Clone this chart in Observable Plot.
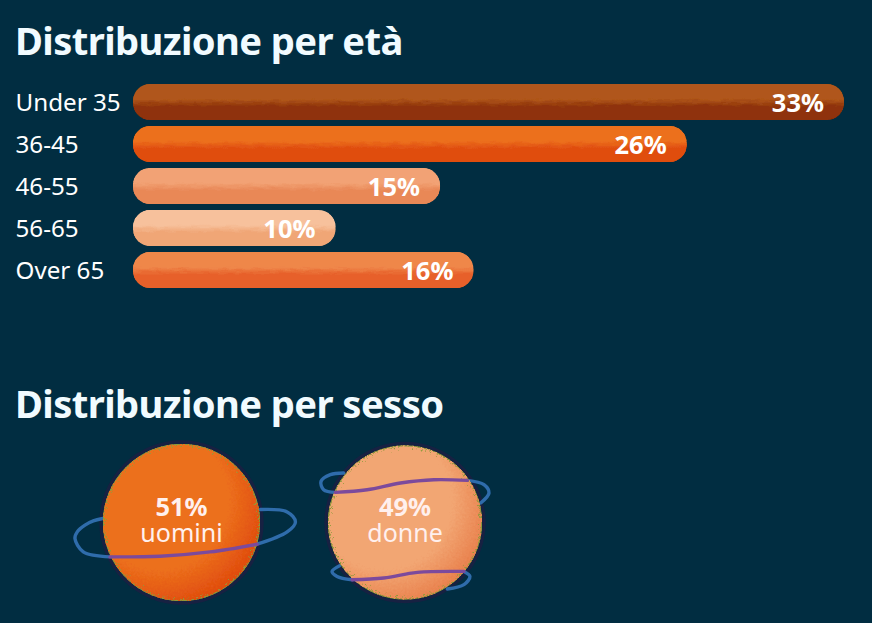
<!DOCTYPE html>
<html lang="it">
<head>
<meta charset="utf-8">
<script src="https://cdn.jsdelivr.net/npm/d3@7"></script>
<script src="https://cdn.jsdelivr.net/npm/@observablehq/plot@0.6"></script>
<style>
  html, body { margin: 0; padding: 0; background: #012d41; width: 872px; height: 623px; overflow: hidden; }
  body { position: relative; font-family: "Noto Sans", sans-serif; }
  h2 { position: absolute; left: 15px; margin: 0; color: #f1fbff; font: 700 38.2px/44px "Noto Sans", sans-serif; letter-spacing: -0.6px; white-space: nowrap; }
  #t1 { top: 18px; }
  #t2 { top: 381px; }
  #bars, #planets { position: absolute; left: 0; }
  #bars { top: 70px; }
  #planets { top: 436px; }
  #bars rect { filter: url(#rough); }
  #planets circle.body { filter: url(#grain); }
  svg { background: transparent; display: block; overflow: visible; }
</style>
</head>
<body>
<svg width="0" height="0" style="position:absolute">
  <defs id="defs"></defs>
  <filter id="rough" x="0" y="0" width="100%" height="100%">
    <feTurbulence type="fractalNoise" baseFrequency="0.09 0.35" numOctaves="2" seed="4" result="n"/>
    <feDisplacementMap in="SourceGraphic" in2="n" scale="5" xChannelSelector="R" yChannelSelector="G" result="d"/>
    <feComposite in="d" in2="SourceAlpha" operator="in" result="c"/>
    <feMerge><feMergeNode in="SourceGraphic"/><feMergeNode in="c"/></feMerge>
  </filter>
  <filter id="grain" x="0" y="0" width="100%" height="100%">
    <feTurbulence type="fractalNoise" baseFrequency="0.45" numOctaves="2" seed="7" result="n"/>
    <feDisplacementMap in="SourceGraphic" in2="n" scale="14" xChannelSelector="R" yChannelSelector="G" result="d"/>
    <feComposite in="d" in2="SourceAlpha" operator="in" result="c"/>
    <feMerge><feMergeNode in="SourceGraphic"/><feMergeNode in="c"/></feMerge>
  </filter>
</svg>
<h2 id="t1">Distribuzione per età</h2>
<div id="bars"></div>
<h2 id="t2">Distribuzione per sesso</h2>
<div id="planets"></div>
<script>
// ---- data ----
const ages = ["Under 35", "36-45", "46-55", "56-65", "Over 65"];
const ageLabels = ["33%", "26%", "15%", "10%", "16%"];
const ageLengths = [33, 25.7, 14.25, 9.4, 15.8];
const ageTop = ["#b0571a", "#ec6f1c", "#f2a274", "#f7c19c", "#ef874a"];
const ageBottom = ["#8f330a", "#e04e10", "#e98857", "#f0a676", "#e7612a"];

const sexes = ["uomini", "donne"];
const sexValues = [51, 49];
const sexLabels = ["51%", "49%"];
const sexLight = ["#ec6f1c", "#f2a673"];
const sexDark = ["#e04c0e", "#e9824e"];

// ring outlines, offsets from a planet's centre, split into back and front runs
const ringBack = [
  {planet: 0, part: "a", ox: [-78.6,-88,-96.3,-104,-106.3,-98,-71.3], oy: [-4,-1.6,2.7,9.4,16,29.4,34.4]},
  {planet: 0, part: "b", ox: [75.4,105.4,113.7,105.4,78.7], oy: [21.7,9.4,-0.6,-10.6,-13]},
  {planet: 1, part: "c", ox: [-61.2,-74.5,-83.8,-81.2,-69.5], oy: [-49.5,-47.8,-41.1,-32.8,-30.1]},
  {planet: 1, part: "d", ox: [62.2,78.8,83.8,75.5], oy: [-42.1,-37.8,-29.5,-19.5]},
  {planet: 1, part: "e", ox: [-65.2,-72.8,-67.8,-52.8], oy: [43.2,48.9,53.9,57.2]},
  {planet: 1, part: "f", ox: [58.8,64.8,58.8,42.2], oy: [48.9,53.9,62.2,66.5]}
];
const ringFront = [
  {planet: 0, part: "g", ox: [-71.3,-21.3,28.7,75.4], oy: [34.4,33.7,29.4,21.7]},
  {planet: 1, part: "h", ox: [-69.5,-37.8,-4.5,28.8,62.2], oy: [-30.1,-32.8,-39.5,-42.8,-42.1]},
  {planet: 1, part: "i", ox: [-52.8,-21.2,12.2,58.8], oy: [57.2,55.5,49.9,48.9]}
];

// ---- gradients ----
const defs = d3.select("#defs");
ages.forEach((a, i) => {
  const g = defs.append("linearGradient").attr("id", "bar" + i).attr("x1", 0).attr("x2", 0).attr("y1", 0).attr("y2", 1);
  [[0, ageTop[i]], [0.42, ageTop[i]], [0.62, ageBottom[i]], [1, ageBottom[i]]].forEach(([o, c]) =>
    g.append("stop").attr("offset", o).attr("stop-color", c));
});
sexes.forEach((s, i) => {
  const g = defs.append("radialGradient").attr("id", "planet" + i).attr("cx", 0.36).attr("cy", 0.36).attr("r", 0.72);
  [[0, sexLight[i]], [0.62, sexLight[i]], [0.95, sexDark[i]], [1, sexDark[i]]].forEach(([o, c]) =>
    g.append("stop").attr("offset", o).attr("stop-color", c));
});

// ---- age bars ----
const rows = ages.map((age, i) => ({age, length: ageLengths[i], label: ageLabels[i]}));
const barPlot = Plot.plot({
  width: 872, height: 232,
  marginLeft: 133, marginRight: 28, marginTop: 8, marginBottom: 8,
  style: {background: "transparent", fontFamily: "'Noto Sans', sans-serif", overflow: "visible"},
  x: {domain: [0, 33], axis: null},
  y: {domain: ages, padding: 6 / 42, label: null},
  color: {domain: ages, range: ages.map((a, i) => `url(#bar${i})`)},
  marks: [
    Plot.axisY({tickSize: 0, tickPadding: 0, textAnchor: "start", dx: -118, dy: 1, fontSize: 24.2, fill: "#ffffff", label: null}),
    Plot.barX(rows, {x: "length", y: "age", fill: "age", rx: 17}),
    Plot.text(rows, {x: "length", y: "age", text: "label", textAnchor: "end", dx: -20.5, dy: 1, fill: "#ffffff", fontSize: 25.5, fontWeight: 700})
  ]
});
document.getElementById("bars").append(barPlot);

// ---- planets ----
const spacing = 223;
const planets = sexes.map((sex, i) => ({sex, value: sexValues[i], label: sexLabels[i], pos: i * spacing}));
const linePoints = runs => runs.flatMap(r => r.ox.map((ox, k) => ({part: r.part, x: r.planet * spacing + ox, y: r.oy[k]})));
const planetPlot = Plot.plot({
  width: 872, height: 172,
  margin: 0,
  style: {background: "transparent", fontFamily: "'Noto Sans', sans-serif", overflow: "visible"},
  x: {domain: [0, spacing], range: [181, 404.5], axis: null},
  y: {domain: [-86, 86], range: [0, 172], axis: null},
  r: {domain: [0, 51], range: [0, 78.2]},
  color: {domain: sexes, range: sexes.map((s, i) => `url(#planet${i})`)},
  marks: [
    Plot.dot(planets, {x: "pos", y: () => 0, r: "value", stroke: "#3a0f44", strokeWidth: 8, strokeOpacity: 0.4, fill: "none"}),
    Plot.line(linePoints(ringBack), {x: "x", y: "y", z: "part", curve: "catmull-rom", stroke: "#2f6cab", strokeWidth: 3.4}),
    Plot.dot(planets, {x: "pos", y: () => 0, r: "value", fill: "sex", stroke: "#8d9c3a", strokeWidth: 1, className: "planet-body"}),
    Plot.line(linePoints(ringFront), {x: "x", y: "y", z: "part", curve: "catmull-rom", stroke: "#7c4a9c", strokeWidth: 3.4}),
    Plot.text(planets, {x: "pos", y: () => 0, text: "label", dy: -15, fill: "#fff0ee", fontSize: 25.5, fontWeight: 700}),
    Plot.text(planets, {x: "pos", y: () => 0, text: "sex", dy: 11, fill: "#fff0ee", fontSize: 25})
  ]
});
document.getElementById("planets").append(planetPlot);
d3.select(planetPlot).selectAll(".planet-body circle").classed("body", true);
</script>
</body>
</html>
